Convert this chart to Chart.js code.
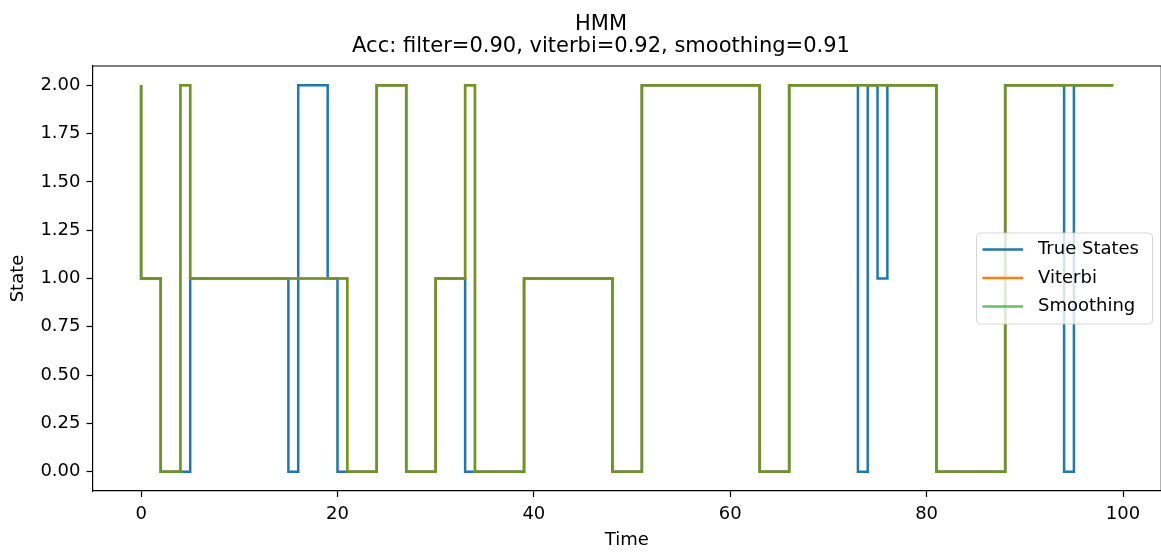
<!DOCTYPE html>
<html>
<head>
<meta charset="utf-8">
<title>HMM</title>
<script src="https://cdn.jsdelivr.net/npm/chart.js@4.4.1/dist/chart.umd.min.js"></script>
<style>
  html, body { margin: 0; padding: 0; background: #fff; }
  #chart { display: block; }
</style>
</head>
<body>
<canvas id="chart" width="1161" height="552"></canvas>
<script>
const timeSteps = [
  0, 1, 2, 3, 4, 5, 6, 7, 8, 9,
  10, 11, 12, 13, 14, 15, 16, 17, 18, 19,
  20, 21, 22, 23, 24, 25, 26, 27, 28, 29,
  30, 31, 32, 33, 34, 35, 36, 37, 38, 39,
  40, 41, 42, 43, 44, 45, 46, 47, 48, 49,
  50, 51, 52, 53, 54, 55, 56, 57, 58, 59,
  60, 61, 62, 63, 64, 65, 66, 67, 68, 69,
  70, 71, 72, 73, 74, 75, 76, 77, 78, 79,
  80, 81, 82, 83, 84, 85, 86, 87, 88, 89,
  90, 91, 92, 93, 94, 95, 96, 97, 98, 99
];

const trueStates = [
  2, 1, 1, 0, 0, 0, 1, 1, 1, 1,
  1, 1, 1, 1, 1, 1, 0, 2, 2, 2,
  1, 0, 0, 0, 0, 2, 2, 2, 0, 0,
  0, 1, 1, 1, 0, 0, 0, 0, 0, 0,
  1, 1, 1, 1, 1, 1, 1, 1, 1, 0,
  0, 0, 2, 2, 2, 2, 2, 2, 2, 2,
  2, 2, 2, 2, 0, 0, 0, 2, 2, 2,
  2, 2, 2, 2, 0, 2, 1, 2, 2, 2,
  2, 2, 0, 0, 0, 0, 0, 0, 0, 2,
  2, 2, 2, 2, 2, 0, 2, 2, 2, 2
];

const viterbiStates = [
  2, 1, 1, 0, 0, 2, 1, 1, 1, 1,
  1, 1, 1, 1, 1, 1, 1, 1, 1, 1,
  1, 1, 0, 0, 0, 2, 2, 2, 0, 0,
  0, 1, 1, 1, 2, 0, 0, 0, 0, 0,
  1, 1, 1, 1, 1, 1, 1, 1, 1, 0,
  0, 0, 2, 2, 2, 2, 2, 2, 2, 2,
  2, 2, 2, 2, 0, 0, 0, 2, 2, 2,
  2, 2, 2, 2, 2, 2, 2, 2, 2, 2,
  2, 2, 0, 0, 0, 0, 0, 0, 0, 2,
  2, 2, 2, 2, 2, 2, 2, 2, 2, 2
];

const smoothingStates = [
  2, 1, 1, 0, 0, 2, 1, 1, 1, 1,
  1, 1, 1, 1, 1, 1, 1, 1, 1, 1,
  1, 1, 0, 0, 0, 2, 2, 2, 0, 0,
  0, 1, 1, 1, 2, 0, 0, 0, 0, 0,
  1, 1, 1, 1, 1, 1, 1, 1, 1, 0,
  0, 0, 2, 2, 2, 2, 2, 2, 2, 2,
  2, 2, 2, 2, 0, 0, 0, 2, 2, 2,
  2, 2, 2, 2, 2, 2, 2, 2, 2, 2,
  2, 2, 0, 0, 0, 0, 0, 0, 0, 2,
  2, 2, 2, 2, 2, 2, 2, 2, 2, 2
];

const xTicks = [0, 20, 40, 60, 80, 100];
const yTicks = [0, 0.25, 0.5, 0.75, 1, 1.25, 1.5, 1.75, 2];
const titleLines = ["HMM", "Acc: filter=0.90, viterbi=0.92, smoothing=0.91"];

const FONT = "'DejaVu Sans', sans-serif";

// two-line title, centred like the original figure
const titleText = {
  id: "titleText",
  afterDraw(chart) {
    const ctx = chart.ctx;
    ctx.save();
    ctx.fillStyle = "#000";
    ctx.font = "21px " + FONT;
    ctx.textAlign = "center";
    ctx.textBaseline = "alphabetic";
    ctx.fillText(titleLines[0], 601, 29.5);
    ctx.fillText(titleLines[1], 601, 51.5);
    ctx.restore();
  },
};

// top spine + right spine (which sits just past the canvas edge)
const frame = {
  id: "frame",
  afterDatasetsDraw(chart) {
    const { ctx, chartArea } = chart;
    ctx.save();
    ctx.strokeStyle = "#000";
    ctx.lineWidth = 1.2;
    ctx.beginPath();
    ctx.moveTo(chartArea.left, chartArea.top);
    ctx.lineTo(chartArea.right + 0.3, chartArea.top);
    ctx.lineTo(chartArea.right + 0.3, chartArea.bottom);
    ctx.stroke();
    ctx.restore();
  },
};

// matplotlib style legend box, centre right
const legendBox = {
  id: "legendBox",
  afterDraw(chart) {
    const { ctx, chartArea } = chart;
    const w = 176, h = 91;
    const x = chartArea.right - 8.5 - w;
    const y = (chartArea.top + chartArea.bottom) / 2 - h / 2;
    ctx.save();
    ctx.beginPath();
    ctx.roundRect(x, y, w, h, 4);
    ctx.fillStyle = "rgba(255,255,255,0.8)";
    ctx.fill();
    ctx.strokeStyle = "rgba(204,204,204,0.8)";
    ctx.lineWidth = 1;
    ctx.stroke();
    ctx.font = "18px " + FONT;
    ctx.textBaseline = "middle";
    ctx.textAlign = "left";
    chart.data.datasets.forEach((ds, i) => {
      const ry = y + 16.5 + i * 28.5;
      ctx.strokeStyle = ds.borderColor;
      ctx.lineWidth = ds.borderWidth;
      ctx.beginPath();
      ctx.moveTo(x + 6, ry);
      ctx.lineTo(x + 46.5, ry);
      ctx.stroke();
      ctx.fillStyle = "#000";
      ctx.fillText(ds.label, x + 61.5, ry);
    });
    ctx.restore();
  },
};

const ctx = document.getElementById("chart").getContext("2d");

new Chart(ctx, {
  type: "line",
  data: {
    labels: timeSteps,
    datasets: [
      {
        label: "True States",
        data: trueStates,
        borderColor: "#1f77b4",
        order: 3,
      },
      {
        label: "Viterbi",
        data: viterbiStates,
        borderColor: "#ff7f0e",
        order: 2,
      },
      {
        label: "Smoothing",
        data: smoothingStates,
        borderColor: "rgba(44,160,44,0.7)",
        order: 1,
      },
    ].map((d) => ({
      ...d,
      stepped: "after",
      borderWidth: 2.5,
      pointRadius: 0,
      fill: false,
      tension: 0,
    })),
  },
  options: {
    responsive: false,
    animation: false,
    devicePixelRatio: 1,
    layout: { padding: { top: 66, right: 0, left: 0, bottom: 0 } },
    plugins: {
      legend: { display: false },
      title: { display: false },
      tooltip: { enabled: false },
    },
    scales: {
      x: {
        type: "linear",
        min: -4.95,
        max: 103.87,
        afterBuildTicks: (axis) => {
          axis.ticks = xTicks.map((v) => ({ value: v }));
        },
        afterFit: (scale) => {
          scale.height = 61;
        },
        ticks: {
          font: { family: FONT, size: 18 },
          color: "#000",
          padding: 7,
          maxRotation: 0,
          callback: (v) => String(v),
        },
        grid: {
          drawOnChartArea: false,
          drawTicks: true,
          tickLength: 6,
          tickColor: "#000",
          tickWidth: 1.2,
        },
        border: { display: true, color: "#000", width: 1.2 },
        title: {
          display: true,
          text: "Time",
          color: "#000",
          font: { family: FONT, size: 18 },
          padding: { top: 0, bottom: 1 },
        },
      },
      y: {
        min: -0.1,
        max: 2.1,
        afterBuildTicks: (axis) => {
          axis.ticks = yTicks.map((v) => ({ value: v }));
        },
        afterFit: (scale) => {
          scale.width = 92.5;
        },
        ticks: {
          font: { family: FONT, size: 18 },
          color: "#000",
          padding: 6,
          callback: (v) => Number(v).toFixed(2),
        },
        grid: {
          drawOnChartArea: false,
          drawTicks: true,
          tickLength: 6,
          tickColor: "#000",
          tickWidth: 1.2,
        },
        border: { display: true, color: "#000", width: 1.2 },
        title: {
          display: true,
          text: "State",
          color: "#000",
          font: { family: FONT, size: 18 },
          padding: { top: 8, bottom: 0 },
        },
      },
    },
  },
  plugins: [frame, legendBox, titleText],
});
</script>
</body>
</html>
